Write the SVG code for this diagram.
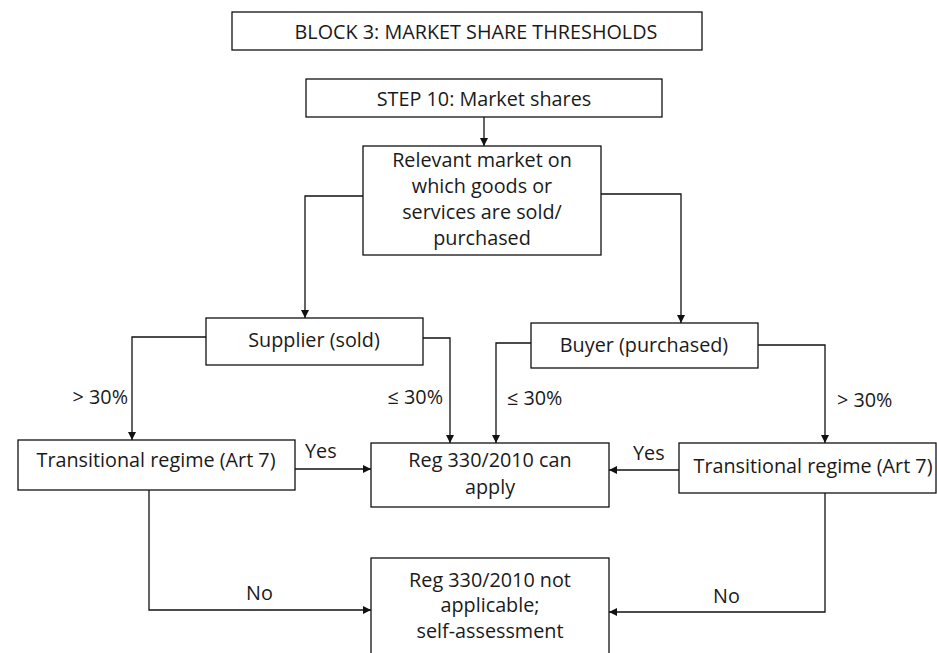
<svg xmlns="http://www.w3.org/2000/svg" width="937" height="653" viewBox="0 0 937 653">
  <style>
    .box { fill: #ffffff; stroke: #111111; stroke-width: 1.3; }
    .wire { fill: none; stroke: #111111; stroke-width: 1.3; }
    text { font-family: "Open Sans", "Noto Sans", "DejaVu Sans", sans-serif; font-size: 19.8px; fill: #1a1a1a; }
    .c { text-anchor: middle; }
    .e { text-anchor: end; }
  </style>
  <defs>
    <marker id="arrow" viewBox="0 0 10 10" refX="10" refY="5" markerWidth="9" markerHeight="8" markerUnits="userSpaceOnUse" orient="auto">
      <path d="M0,0 L10,5 L0,10 Z" fill="#111111"/>
    </marker>
  </defs>

  <rect width="937" height="653" fill="#ffffff"/>

  <g id="connectors">
    <path class="wire" d="M484,117 V146" marker-end="url(#arrow)"/>
    <path class="wire" d="M363,196 H305 V318" marker-end="url(#arrow)"/>
    <path class="wire" d="M601,194 H681 V323" marker-end="url(#arrow)"/>
    <path class="wire" d="M206,337 H132 V440" marker-end="url(#arrow)"/>
    <path class="wire" d="M423,338 H450 V443" marker-end="url(#arrow)"/>
    <path class="wire" d="M531,343 H496 V443" marker-end="url(#arrow)"/>
    <path class="wire" d="M758,345 H825 V443" marker-end="url(#arrow)"/>
    <path class="wire" d="M295,469 H371" marker-end="url(#arrow)"/>
    <path class="wire" d="M679,470 H609" marker-end="url(#arrow)"/>
    <path class="wire" d="M149,490 V610 H371" marker-end="url(#arrow)"/>
    <path class="wire" d="M825,493 V612 H609" marker-end="url(#arrow)"/>
    <text class="e" x="128" y="404">&gt; 30%</text>
    <text class="e" x="443" y="404">≤ 30%</text>
    <text x="507" y="405">≤ 30%</text>
    <text x="837" y="407">&gt; 30%</text>
    <text x="305" y="458">Yes</text>
    <text x="633" y="460">Yes</text>
    <text x="246" y="600">No</text>
    <text x="713" y="603">No</text>
  </g>

  <g id="block3">
    <rect class="box" x="232" y="12" width="470" height="38"/>
    <text class="c" x="476" y="39">BLOCK 3: MARKET SHARE THRESHOLDS</text>
  </g>

  <g id="step10">
    <rect class="box" x="306" y="79" width="356" height="38"/>
    <text class="c" x="484" y="106">STEP 10: Market shares</text>
  </g>

  <g id="relevant-market">
    <rect class="box" x="363" y="146" width="238" height="109"/>
    <text class="c" x="482" y="167">Relevant market on</text>
    <text class="c" x="482" y="193">which goods or</text>
    <text class="c" x="482" y="219">services are sold/</text>
    <text class="c" x="482" y="245">purchased</text>
  </g>

  <g id="supplier">
    <rect class="box" x="206" y="318" width="217" height="47"/>
    <text class="c" x="314" y="347">Supplier (sold)</text>
  </g>

  <g id="buyer">
    <rect class="box" x="531" y="323" width="227" height="45"/>
    <text class="c" x="644" y="352">Buyer (purchased)</text>
  </g>

  <g id="transitional-left">
    <rect class="box" x="18" y="440" width="277" height="50"/>
    <text class="c" x="156" y="467">Transitional regime (Art 7)</text>
  </g>

  <g id="reg-can-apply">
    <rect class="box" x="371" y="443" width="238" height="64"/>
    <text class="c" x="490" y="467">Reg 330/2010 can</text>
    <text class="c" x="490" y="494">apply</text>
  </g>

  <g id="transitional-right">
    <rect class="box" x="679" y="443" width="257" height="50"/>
    <text class="c" x="813" y="473">Transitional regime (Art 7)</text>
  </g>

  <g id="reg-not-applicable">
    <rect class="box" x="371" y="558" width="238" height="110"/>
    <text class="c" x="490" y="587">Reg 330/2010 not</text>
    <text class="c" x="490" y="612">applicable;</text>
    <text class="c" x="490" y="638">self-assessment</text>
  </g>
</svg>
